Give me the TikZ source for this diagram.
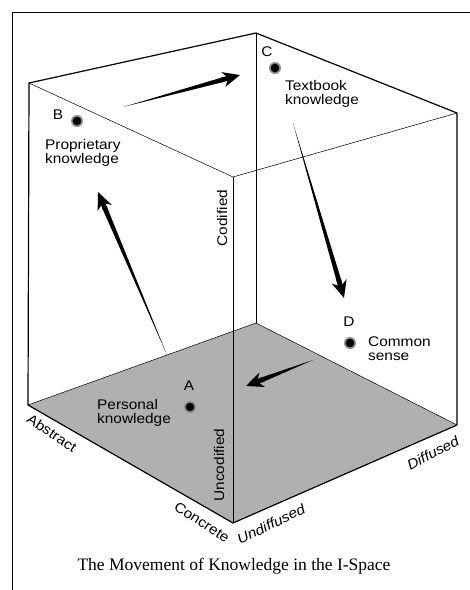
\documentclass[tikz,border=0pt]{standalone}
\usepackage{fontspec}
\setmainfont{Liberation Serif}
\setsansfont[FakeStretch=1.1]{Liberation Sans}
\usetikzlibrary{calc,arrows.meta}

% tapered arrow from #1 to #2
\newcommand{\movearrow}[2]{%
	\fill (#1) -- ($(#2)!17pt!(#1)!2.4pt!90:(#2)$) -- ($(#2)!17pt!(#1)!2.4pt!-90:(#2)$) -- cycle;
	\draw[line width=4.8pt, -{Stealth[length=17pt,width=15pt,inset=5pt]}] ($(#2)!19pt!(#1)$) -- (#2);
}

\begin{document}
\begin{tikzpicture}[x=1pt, y=-1pt, font=\sffamily\fontsize{14}{14}\selectfont,
	outer/.style={line width=1.2pt},
	inner/.style={line width=0.5pt},
	axis/.style={inner sep=0pt},
	info/.style={inner sep=0pt, anchor=north west, align=left}]
	\useasboundingbox (0,0) rectangle (470,590);
	\draw[line width=0.8pt] (12,590) -- (12,12) -- (470,12);
	% cube
	\coordinate (topleft) at (29,83);
	\coordinate (topback) at (256,33);
	\coordinate (topright) at (457,113);
	\coordinate (topfront) at (233,177);
	\coordinate (floorleft) at (28,405);
	\coordinate (floorback) at (256,323);
	\coordinate (floorright) at (457,425);
	\coordinate (floorfront) at (233,523);
	\fill[gray!62] (floorleft) -- (floorback) -- (floorright) -- (floorfront) -- cycle;
	\draw[inner] (topleft) -- (topfront) -- (topright);
	\draw[inner] (topback) -- (floorback);
	\draw[inner] (floorleft) -- (floorback) -- (floorright);
	\draw[inner] (topfront) -- (floorfront);
	\draw[outer] (floorleft) -- (topleft) -- (topback) -- (topright) -- (floorright);
	\draw[outer] (floorleft) -- (floorfront) -- (floorright);
	% knowledge points
	\coordinate (A) at (190,407);
	\coordinate (B) at (77,121);
	\coordinate (C) at (275,68);
	\coordinate (D) at (350,343);
	\foreach \p in {A,B,C,D} {
		\fill[black!45] (\p) circle [radius=6];
		\fill (\p) circle [radius=4.3];
	}
	\node[axis] (labA) at (189,386) {A};
	\node[axis] (labB) at (58,115) {B};
	\node[axis] (labC) at (267,52) {C};
	\node[axis] (labD) at (349,322) {D};
	\node[info] (personal) at (97,399) {Personal\\knowledge};
	\node[info] (proprietary) at (45,139) {Proprietary\\knowledge};
	\node[info] (textbook) at (285,80) {Textbook\\knowledge};
	\node[info] (common) at (368,337) {Common\\sense};
	% movement
	\coordinate (ab1) at (167,355);
	\coordinate (ab2) at (98,192);
	\coordinate (bc1) at (123,107);
	\coordinate (bc2) at (240,75);
	\coordinate (cd1) at (293,123);
	\coordinate (cd2) at (344,298);
	\coordinate (da1) at (313,360);
	\coordinate (da2) at (246,386);
	\movearrow{ab1}{ab2}
	\movearrow{bc1}{bc2}
	\movearrow{cd1}{cd2}
	\movearrow{da1}{da2}
	% axes
	\node[axis, rotate=90] (codified) at (222,218) {Codified};
	\node[axis, rotate=90] (uncodified) at (219,465) {Uncodified};
	\node[axis, rotate=-34] (abstract) at (52,433) {Abstract};
	\node[axis, rotate=-33] (concrete) at (202,522) {Concrete};
	\node[axis, rotate=26, font=\sffamily\itshape\fontsize{14}{14}\selectfont] (undiffused) at (271,524) {Undiffused};
	\node[axis, rotate=28, font=\sffamily\itshape\fontsize{14}{14}\selectfont] (diffused) at (433,453) {Diffused};
	\node[font=\rmfamily\fontsize{17.5}{20}\selectfont] (caption) at (234,566) {The Movement of Knowledge in the I-Space};
\end{tikzpicture}
\end{document}
